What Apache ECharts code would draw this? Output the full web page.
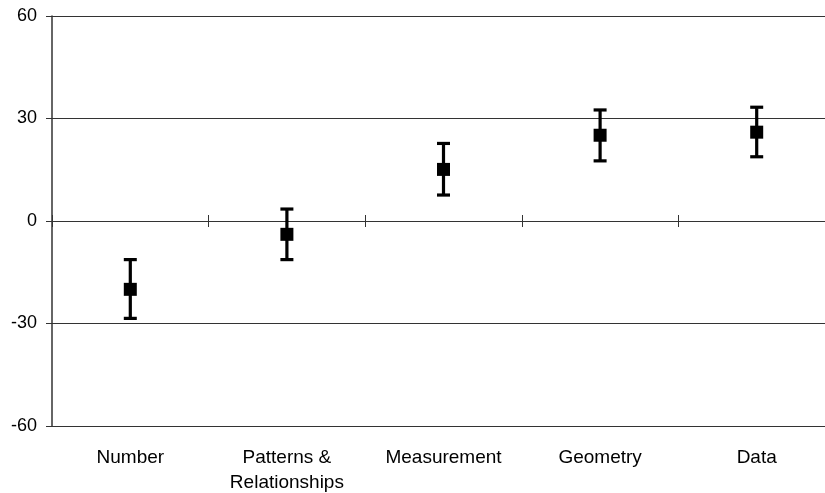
<!DOCTYPE html>
<html><head><meta charset="utf-8">
<script src="https://cdn.jsdelivr.net/npm/echarts@6/dist/echarts.min.js"></script>
<style>html,body{margin:0;padding:0;background:#fff}#c{width:825px;height:493px}</style>
</head><body><div id="c"></div>
<script>
const categories = ['Number', 'Patterns &\nRelationships', 'Measurement', 'Geometry', 'Data'];
const means = [-20.0, -3.9, 15.1, 25.1, 26.0];
const lowers = [-28.5, -11.3, 7.6, 17.6, 18.8];
const uppers = [-11.3, 3.5, 22.7, 32.5, 33.3];
const yMin = -60, yMax = 60, yInterval = 30;

const font = 'Arial, "Liberation Sans", sans-serif';
const chart = echarts.init(document.getElementById('c'));
const lineColor = '#333';
const gridLeft = 52, gridWidth = 783;
chart.setOption({
  animation: false,
  backgroundColor: '#fff',
  grid: { left: gridLeft, top: 16, width: gridWidth, height: 410, containLabel: false, outerBoundsMode: 'none' },
  xAxis: [
    { type: 'category', data: categories, position: 'bottom',
      axisLine: { show: false, onZero: false }, axisTick: { show: false },
      axisLabel: { color: '#000', fontSize: 19, fontFamily: font, margin: 19, lineHeight: 25, interval: 0 } },
    { type: 'category', data: categories, position: 'bottom',
      axisLine: { show: true, onZero: true, onZeroAxisIndex: 0, lineStyle: { color: lineColor, width: 1 } },
      axisTick: { show: true, inside: false, length: 6, lineStyle: { color: lineColor } },
      axisLabel: { show: false } },
    { type: 'category', data: categories, position: 'bottom',
      axisLine: { show: false, onZero: true, onZeroAxisIndex: 0 },
      axisTick: { show: true, inside: true, length: 6, lineStyle: { color: lineColor } },
      axisLabel: { show: false } }
  ],
  yAxis: [
    { type: 'value', min: yMin, max: yMax, interval: yInterval, position: 'left',
      axisLine: { show: true, lineStyle: { color: lineColor, width: 1.5 } },
      axisTick: { show: true, length: 6, lineStyle: { color: lineColor } },
      axisLabel: { color: '#000', fontSize: 18, fontFamily: font, margin: 15 },
      splitLine: { show: true, lineStyle: { color: lineColor, width: 1 } } },
    { type: 'value', min: yMin, max: yMax, interval: yInterval, position: 'right', offset: -gridWidth,
      axisLine: { show: false, onZero: false },
      axisTick: { show: true, inside: false, length: 6, lineStyle: { color: lineColor } },
      axisLabel: { show: false },
      splitLine: { show: false } }
  ],
  series: [
    { type: 'custom', xAxisIndex: 0, yAxisIndex: 0,
      data: categories.map((c, i) => [i, lowers[i], uppers[i]]),
      renderItem: function (params, api) {
        const lo = api.coord([api.value(0), api.value(1)]);
        const hi = api.coord([api.value(0), api.value(2)]);
        const hw = 6.5;
        const st = { stroke: '#000', lineWidth: 3.2 };
        return { type: 'group', children: [
          { type: 'line', shape: { x1: lo[0], y1: lo[1], x2: hi[0], y2: hi[1] }, style: st },
          { type: 'line', shape: { x1: lo[0] - hw, y1: lo[1], x2: lo[0] + hw, y2: lo[1] }, style: st },
          { type: 'line', shape: { x1: hi[0] - hw, y1: hi[1], x2: hi[0] + hw, y2: hi[1] }, style: st }
        ] };
      }, z: 3 },
    { type: 'scatter', xAxisIndex: 0, yAxisIndex: 0, symbol: 'rect', symbolSize: 13,
      itemStyle: { color: '#000', opacity: 1 }, data: means, z: 4 }
  ]
});
</script></body></html>
